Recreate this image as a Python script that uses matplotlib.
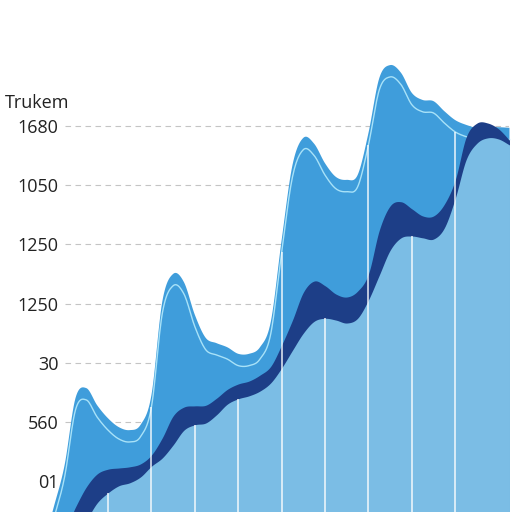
import numpy as np
import matplotlib
matplotlib.use("Agg")
import matplotlib.pyplot as plt

# x positions (vertical guide lines sit on the integers)
x = np.arange(-0.5, 10.26, 0.25)

# top of the medium blue layer
upper = [-1.10, -0.44, 0.27, 1.40, 1.57, 1.28, 1.06, 0.91, 0.86, 0.95, 1.45,
         3.03, 3.50, 3.36, 2.81, 2.42, 2.33, 2.26, 2.15, 2.15, 2.26, 2.69,
         4.07, 5.34, 5.80, 5.70, 5.37, 5.14, 5.09, 5.17, 5.88, 6.81, 7.03,
         6.90, 6.56, 6.44, 6.42, 6.25, 6.10, 6.02, 5.97, 5.98, 5.98, 5.97]
# top of the navy band
middle = [-1.20, -0.83, -0.83, -0.44, -0.10, 0.12, 0.20, 0.22, 0.24, 0.29, 0.44,
          0.73, 1.10, 1.25, 1.27, 1.28, 1.40, 1.55, 1.64, 1.69, 1.79, 1.94,
          2.30, 2.72, 3.19, 3.38, 3.30, 3.16, 3.11, 3.21, 3.50, 4.24, 4.65,
          4.72, 4.60, 4.48, 4.48, 4.68, 5.09, 5.81, 6.05, 6.05, 5.95, 5.76]
# top of the light blue layer
lower = [-1.60, -1.34, -1.17, -0.91, -0.66, -0.37, -0.20, -0.08, -0.03, 0.07, 0.25,
         0.39, 0.61, 0.86, 0.95, 0.98, 1.12, 1.30, 1.39, 1.44, 1.52, 1.66,
         1.91, 2.21, 2.50, 2.70, 2.75, 2.72, 2.67, 2.75, 3.06, 3.48, 3.90,
         4.11, 4.14, 4.11, 4.09, 4.28, 4.78, 5.43, 5.71, 5.80, 5.78, 5.68]

tick_labels = ["01", "560", "30", "1250", "1250", "1050", "1680"]
axis_title = "Trukem"
short_lines = [1, 3, 4, 6, 8]
tall_lines = [2, 5, 7, 9]


def smooth(xs, ys, n=12):
    # catmull-rom through the read points
    xs = np.asarray(xs, float)
    ys = np.asarray(ys, float)
    px = np.concatenate([[2 * xs[0] - xs[1]], xs, [2 * xs[-1] - xs[-2]]])
    py = np.concatenate([[2 * ys[0] - ys[1]], ys, [2 * ys[-1] - ys[-2]]])
    ox, oy = [], []
    t = np.linspace(0, 1, n, endpoint=False)
    for i in range(1, len(px) - 2):
        for arr, out in ((px, ox), (py, oy)):
            p0, p1, p2, p3 = arr[i - 1], arr[i], arr[i + 1], arr[i + 2]
            out.extend(0.5 * (2 * p1 + (-p0 + p2) * t
                              + (2 * p0 - 5 * p1 + 4 * p2 - p3) * t ** 2
                              + (-p0 + 3 * p1 - 3 * p2 + p3) * t ** 3))
    ox.append(xs[-1])
    oy.append(ys[-1])
    return np.array(ox), np.array(oy)


sx, s_up = smooth(x, upper)
_, s_mid = smooth(x, middle)
_, s_low = smooth(x, lower)

medium_c = "#3f9ddb"
navy_c = "#1d3e87"
light_c = "#7bbde5"

plt.rcParams["font.family"] = ["Open Sans", "DejaVu Sans"]
fig = plt.figure(figsize=(5.12, 5.12), dpi=100)
ax = fig.add_axes([0.1262, 0.0, 0.8689, 1.0])
ax.set_xlim(0, 10.25)
ax.set_ylim(-0.524, 8.13)

base = -2
ax.fill_between(sx, base, s_up, color=medium_c, lw=0, zorder=2, clip_on=False)
ax.plot(sx, s_up - 0.2, color="#a8e2f8", lw=1.0, zorder=2.5, clip_on=False)
ax.fill_between(sx, base, s_mid, color=navy_c, lw=0, zorder=3, clip_on=False)
ax.fill_between(sx, base, s_low, color=light_c, lw=0, zorder=4, clip_on=False)

ax.vlines(short_lines, base, np.interp(short_lines, sx, s_low),
          color="white", lw=1.1, alpha=0.9, zorder=5)
ax.vlines(tall_lines, base, np.interp(tall_lines, sx, s_up) - 0.2,
          color="white", lw=1.1, alpha=0.9, zorder=5)

ax.set_yticks(range(len(tick_labels)))
ax.set_yticklabels(tick_labels, fontsize=13, color="#222222")
ax.set_xticks([])
ax.tick_params(axis="y", length=0, pad=4.5)
ax.yaxis.grid(True, color="#c4c4c4", ls=(0, (5, 4)), lw=0.8, zorder=0)
ax.set_axisbelow(True)
for s in ax.spines.values():
    s.set_visible(False)

fig.text(5 / 512, 1 - 103 / 512, axis_title, fontsize=13, color="#222222",
         ha="left", va="center")

fig.savefig("out.png", dpi=100)
